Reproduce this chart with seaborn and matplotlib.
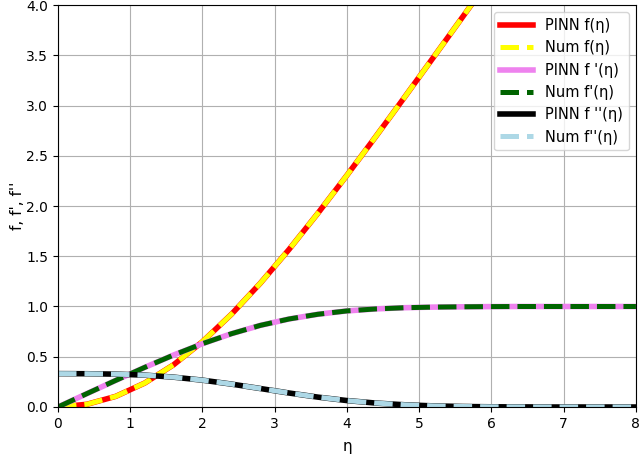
import numpy as np
import pandas as pd
import seaborn as sns
import matplotlib
matplotlib.use('Agg')
import matplotlib.pyplot as plt

# similarity variable and profiles
eta = [0.0, 0.4, 0.8, 1.2, 1.6, 2.0, 2.4, 2.8, 3.2, 3.6, 4.0,
       4.4, 4.8, 5.2, 5.6, 6.0, 6.4, 6.8, 7.2, 7.6, 8.0]
f = [0.0, 0.027, 0.106, 0.238, 0.420, 0.650, 0.922, 1.231, 1.569, 1.930, 2.306,
     2.692, 3.085, 3.482, 3.880, 4.280, 4.679, 5.079, 5.479, 5.879, 6.279]
fp = [0.0, 0.133, 0.265, 0.394, 0.517, 0.630, 0.729, 0.812, 0.876, 0.923, 0.956,
      0.976, 0.988, 0.994, 0.997, 0.999, 1.0, 1.0, 1.0, 1.0, 1.0]
fpp = [0.332, 0.331, 0.327, 0.317, 0.297, 0.267, 0.228, 0.184, 0.139, 0.098, 0.064,
       0.039, 0.022, 0.011, 0.005, 0.002, 0.001, 0.0, 0.0, 0.0, 0.0]

df = pd.DataFrame({'eta': eta, 'f': f, 'fp': fp, 'fpp': fpp})

fig = plt.figure(figsize=(6.4, 4.55), dpi=100)
ax = fig.add_axes([0.0906, 0.1055, 0.903, 0.8835])

# PINN solid, numerical dashed on top
curves = [
    ('f', 'red', 'PINN f(η)', 'yellow', 'Num f(η)'),
    ('fp', 'violet', "PINN f '(η)", 'darkgreen', "Num f'(η)"),
    ('fpp', 'black', "PINN f ''(η)", 'lightblue', "Num f''(η)"),
]
for col, c_pinn, l_pinn, c_num, l_num in curves:
    sns.lineplot(data=df, x='eta', y=col, color=c_pinn, lw=4, label=l_pinn, ax=ax)
    sns.lineplot(data=df, x='eta', y=col, color=c_num, lw=3.6, ls='--', label=l_num, ax=ax)

ax.set_xlim(0, 8)
ax.set_ylim(0, 4)
ax.set_yticks(np.arange(0, 4.01, 0.5))
ax.grid(True, color='#b0b0b0', lw=0.8)
ax.set_xlabel('η', fontsize=11, labelpad=6)
ax.set_ylabel("f, f', f''", fontsize=11, labelpad=1)
ax.legend(loc='upper right', fontsize=10.5, handlelength=2.3)

fig.savefig('out.png', dpi=100)
